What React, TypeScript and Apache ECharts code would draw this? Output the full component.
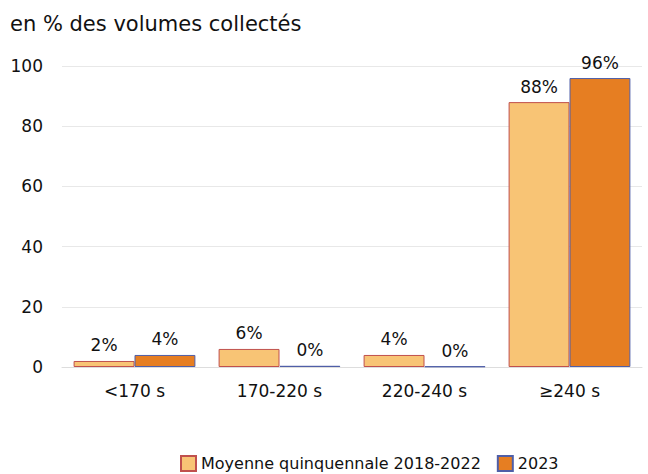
import React, { useEffect, useRef } from "react";
import * as echarts from "echarts";

const categories = ["<170 s", "170-220 s", "220-240 s", "≥240 s"];
const seriesNames = ["Moyenne quinquennale 2018-2022", "2023"];
const avgValues = [2, 6, 4, 88];
const y2023Values = [4, 0.4, 0.2, 96];
const yTicks = { min: 0, max: 100, interval: 20 };

const FONT = "'DejaVu Sans', Verdana, sans-serif";

export default function App() {
  const ref = useRef<HTMLDivElement>(null);
  useEffect(() => {
    document.body.style.margin = "0";
    const chart = echarts.init(ref.current!, null, { renderer: "svg" });
    const label = {
      show: true,
      position: "top",
      distance: 7,
      fontSize: 17,
      color: "#111",
      fontFamily: FONT,
      formatter: (p: any) => Math.round(p.value) + "%",
    };
    chart.setOption({
      animation: false,
      backgroundColor: "#fff",
      textStyle: { fontFamily: FONT },
      title: {
        text: "en % des volumes collectés",
        left: 5,
        top: 8,
        textStyle: { fontSize: 21, fontWeight: "normal", color: "#111", fontFamily: FONT },
      },
      legend: {
        left: 175,
        top: 450,
        itemWidth: 15,
        itemHeight: 15,
        itemGap: 16,
        icon: "rect",
        textStyle: { fontSize: 16, color: "#111", fontFamily: FONT },
        data: seriesNames,
      },
      grid: { left: 62, right: 6, top: 66, bottom: 107, containLabel: false },
      xAxis: {
        type: "category",
        data: categories,
        axisLine: { show: true, lineStyle: { color: "#ddd" } },
        axisTick: { show: false },
        axisLabel: { fontSize: 17, color: "#111", margin: 15, fontFamily: FONT },
      },
      yAxis: {
        type: "value",
        min: yTicks.min,
        max: yTicks.max,
        interval: yTicks.interval,
        axisLine: { show: false },
        axisTick: { show: false },
        splitLine: { lineStyle: { color: "#e8e8e8" } },
        axisLabel: { fontSize: 17, color: "#111", margin: 19, fontFamily: FONT },
      },
      series: [
        {
          name: seriesNames[0],
          type: "bar",
          data: avgValues,
          barGap: "0%",
          barCategoryGap: "16%",
          itemStyle: { color: "#F8C475", borderColor: "#C0504D", borderWidth: 1 },
          label,
        },
        {
          name: seriesNames[1],
          type: "bar",
          data: y2023Values,
          barGap: "0%",
          barCategoryGap: "16%",
          itemStyle: { color: "#E67E22", borderColor: "#4F5FA8", borderWidth: 1 },
          label,
        },
      ],
    });
    return () => chart.dispose();
  }, []);
  return (
    <div
      ref={ref}
      style={{ position: "absolute", left: 0, top: 0, width: 648, height: 474 }}
    />
  );
}
